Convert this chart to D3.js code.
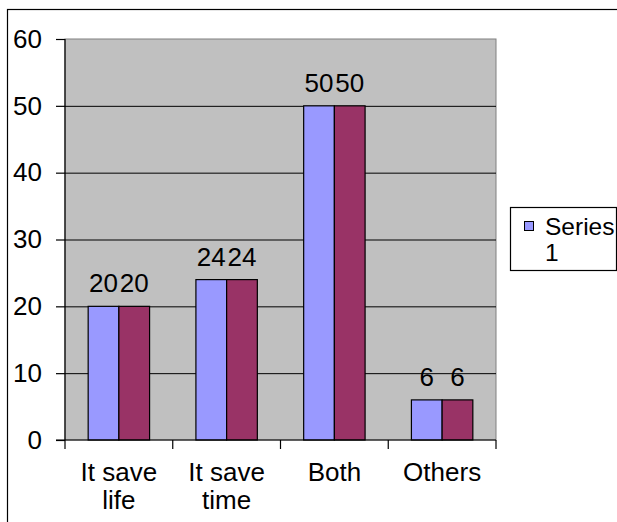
<!DOCTYPE html>
<html lang="en">
<head>
<meta charset="utf-8">
<title>Bar chart</title>
<script src="https://cdn.jsdelivr.net/npm/d3@7"></script>
<style>
  body { margin: 0; background: #fff; }
  text { font-family: "Liberation Sans", Arial, sans-serif; fill: #000; }
</style>
</head>
<body>
<script>
var categories = [["It save", "life"], ["It save", "time"], ["Both"], ["Others"]];
var series1 = [20, 24, 50, 6];
var series2 = [20, 24, 50, 6];
var yTicks = [0, 10, 20, 30, 40, 50, 60];
var legendLabel = ["Series", "1"];

var w = 617, h = 522;
var plotLeft = 65, plotRight = 496, plotTop = 39, plotBottom = 440;
var fontSize = 26;

var svg = d3.select("body").append("svg")
  .attr("width", w)
  .attr("height", h);

// outer frame
svg.append("rect")
  .attr("x", 7.5).attr("y", 9.5)
  .attr("width", 640).attr("height", 540)
  .attr("fill", "none").attr("stroke", "#000").attr("stroke-width", 1.2);

var xScale = d3.scaleBand()
  .domain(d3.range(categories.length))
  .range([plotLeft, plotRight])
  .paddingInner(0)
  .paddingOuter(0);

var yScale = d3.scaleLinear()
  .domain([0, 60])
  .range([plotBottom, plotTop]);

// plot area
svg.append("rect")
  .attr("x", plotLeft).attr("y", plotTop)
  .attr("width", plotRight - plotLeft).attr("height", plotBottom - plotTop)
  .attr("fill", "#c0c0c0")
  .attr("stroke", "#808080");

// gridlines
svg.append("g")
  .selectAll("line")
  .data(yTicks.filter(function(d) { return d > 0 && d < 60; }))
  .enter().append("line")
  .attr("x1", plotLeft).attr("x2", plotRight)
  .attr("y1", function(d) { return yScale(d) + 0.5; })
  .attr("y2", function(d) { return yScale(d) + 0.5; })
  .attr("stroke", "#000");

// bars
var groupWidth = xScale.bandwidth() * 0.57;
var barW = groupWidth / 2;
var seriesList = [{ values: series1, color: "#9999ff" }, { values: series2, color: "#993366" }];

seriesList.forEach(function(s, si) {
  svg.append("g")
    .selectAll("rect")
    .data(s.values)
    .enter().append("rect")
    .attr("x", function(d, i) {
      return xScale(i) + (xScale.bandwidth() - groupWidth) / 2 + si * barW;
    })
    .attr("y", function(d) { return yScale(d); })
    .attr("width", barW)
    .attr("height", function(d) { return yScale(0) - yScale(d); })
    .attr("fill", s.color)
    .attr("stroke", "#000")
    .attr("stroke-width", 1.2);

  svg.append("g")
    .selectAll("text")
    .data(s.values)
    .enter().append("text")
    .attr("x", function(d, i) {
      return xScale(i) + (xScale.bandwidth() - groupWidth) / 2 + si * barW + barW / 2;
    })
    .attr("y", function(d) { return yScale(d) - 14; })
    .attr("text-anchor", "middle")
    .style("font-size", fontSize + "px")
    .text(function(d) { return d; });
});

// y axis
var yAxis = d3.axisLeft(yScale)
  .tickValues(yTicks)
  .tickSize(9)
  .tickPadding(14);

var yg = svg.append("g")
  .attr("transform", "translate(" + plotLeft + ",0)")
  .call(yAxis);
yg.selectAll("text").style("font-size", fontSize + "px").attr("fill", "#000");
yg.selectAll("line, path").attr("stroke", "#000").attr("stroke-width", 1.2);
yg.select(".domain").attr("d", "M0," + plotTop + "V" + plotBottom);

// x axis
var xg = svg.append("g")
  .attr("transform", "translate(0," + plotBottom + ")");
xg.append("line")
  .attr("x1", plotLeft - 9).attr("x2", plotRight)
  .attr("stroke", "#000").attr("stroke-width", 1.2);
xg.selectAll(".tick")
  .data(d3.range(categories.length + 1))
  .enter().append("line")
  .attr("x1", function(d) { return plotLeft + d * xScale.step(); })
  .attr("x2", function(d) { return plotLeft + d * xScale.step(); })
  .attr("y1", 0).attr("y2", 9)
  .attr("stroke", "#000").attr("stroke-width", 1.2);

var xl = xg.selectAll(".cat")
  .data(categories)
  .enter().append("text")
  .attr("class", "cat")
  .attr("text-anchor", "middle")
  .style("font-size", fontSize + "px")
  .attr("transform", function(d, i) {
    return "translate(" + (xScale(i) + xScale.bandwidth() / 2) + ",41)";
  });
xl.selectAll("tspan")
  .data(function(d) { return d; })
  .enter().append("tspan")
  .attr("x", 0)
  .attr("dy", function(d, i) { return i === 0 ? 0 : 28; })
  .text(function(d) { return d; });

// legend
var lg = svg.append("g").attr("transform", "translate(510,207)");
lg.append("rect")
  .attr("x", 0.5).attr("y", 0.5)
  .attr("width", 106).attr("height", 63)
  .attr("fill", "#fff").attr("stroke", "#000").attr("stroke-width", 1.2);
lg.append("rect")
  .attr("x", 14.5).attr("y", 14.5)
  .attr("width", 9).attr("height", 9)
  .attr("fill", "#9999ff").attr("stroke", "#000");
lg.append("text")
  .attr("x", 35).attr("y", 28)
  .style("font-size", "24.5px")
  .selectAll("tspan")
  .data(legendLabel)
  .enter().append("tspan")
  .attr("x", 35)
  .attr("dy", function(d, i) { return i === 0 ? 0 : 26; })
  .text(function(d) { return d; });
</script>
</body>
</html>
